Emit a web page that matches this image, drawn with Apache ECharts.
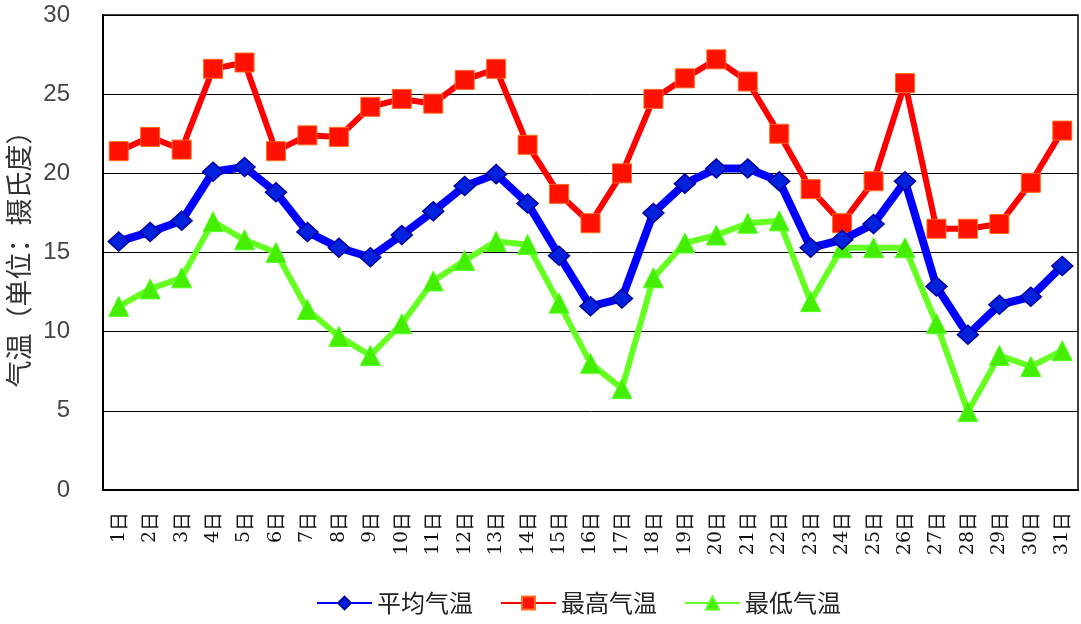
<!DOCTYPE html>
<html>
<head>
<meta charset="utf-8">
<script src="https://cdn.jsdelivr.net/npm/echarts@6/dist/echarts.min.js"></script>
<style>html,body{margin:0;padding:0;background:#fff;}#c{width:1081px;height:624px;}</style>
</head>
<body>
<div id="c"></div>
<script>
const days = ['1日','2日','3日','4日','5日','6日','7日','8日','9日','10日','11日','12日','13日','14日','15日','16日','17日','18日','19日','20日','21日','22日','23日','24日','25日','26日','27日','28日','29日','30日','31日'];
const avgTemp = [15.7,16.3,17.0,20.1,20.4,18.8,16.3,15.3,14.7,16.1,17.6,19.2,19.95,18.1,14.8,11.6,12.1,17.5,19.35,20.3,20.3,19.5,15.3,15.8,16.8,19.5,12.85,9.8,11.7,12.2,14.15];
const maxTemp = [21.4,22.3,21.5,26.6,27.0,21.4,22.4,22.3,24.2,24.7,24.4,25.9,26.6,21.8,18.7,16.85,20.0,24.7,26.0,27.2,25.8,22.5,19.0,16.85,19.5,25.7,16.5,16.5,16.8,19.4,22.7];
const minTemp = [11.6,12.7,13.4,16.95,15.8,15.0,11.4,9.7,8.5,10.5,13.2,14.5,15.7,15.5,11.8,8.0,6.4,13.4,15.6,16.1,16.85,17.0,11.9,15.3,15.3,15.3,10.5,4.95,8.5,7.8,8.8];
const seriesNames = ['平均气温','最高气温','最低气温'];
const yTicks = {min: 0, max: 30, interval: 5};

const chart = echarts.init(document.getElementById('c'));
chart.setOption({
  animation: false,
  backgroundColor: '#fff',
  grid: {left: 103, right: 3, top: 15, bottom: 134, show: true, borderColor: '#000', borderWidth: 1.5, containLabel: false, outerBoundsMode: 'none'},
  legend: {
    bottom: 4, left: 311,
    itemWidth: 55, itemHeight: 16, itemGap: 27,
    textStyle: {fontSize: 24, color: '#222', fontFamily: 'Noto Sans CJK SC'},
    data: seriesNames
  },
  xAxis: {
    type: 'category', data: days, boundaryGap: true,
    axisLine: {lineStyle: {color: '#000', width: 2}},
    axisTick: {inside: true, length: 7, interval: 0, lineStyle: {color: '#000', width: 1}},
    axisLabel: {
      rotate: 90, interval: 0, margin: 22, color: '#111',
      formatter: function (v) { return '{d|' + v.replace('日', '') + '}{r|日}'; },
      rich: {
        d: {fontSize: 19, fontFamily: 'DejaVu Serif', color: '#111'},
        r: {fontSize: 19, fontFamily: 'Noto Sans CJK SC', color: '#111'}
      }
    }
  },
  yAxis: {
    type: 'value', min: yTicks.min, max: yTicks.max, interval: yTicks.interval,
    name: '气温（单位：摄氏度）', nameLocation: 'middle', nameGap: 63,
    nameTextStyle: {fontSize: 27, color: '#333', fontFamily: 'Noto Sans CJK SC'},
    axisLine: {show: true, lineStyle: {color: '#000', width: 2}},
    axisTick: {show: false},
    axisLabel: {margin: 33, fontSize: 24, color: '#444', fontFamily: 'Liberation Sans'},
    splitLine: {lineStyle: {color: '#000', width: 1}}
  },
  series: [
    {name: seriesNames[0], type: 'line', data: avgTemp, symbol: 'diamond', symbolSize: [21, 19],
     lineStyle: {color: '#0000ff', width: 8}, itemStyle: {color: '#0022dd', borderColor: '#0000a0', borderWidth: 1.5}, z: 4},
    {name: seriesNames[1], type: 'line', data: maxTemp, symbol: 'rect', symbolSize: 19,
     lineStyle: {color: '#ff0000', width: 6}, itemStyle: {color: '#ff1100', borderColor: '#ff6a1a', borderWidth: 1}, z: 3},
    {name: seriesNames[2], type: 'line', data: minTemp, symbol: 'triangle', symbolSize: 20,
     lineStyle: {color: '#66ff22', width: 6}, itemStyle: {color: '#44ee00', borderColor: '#55ff22', borderWidth: 1}, z: 2}
  ]
});
</script>
</body>
</html>
